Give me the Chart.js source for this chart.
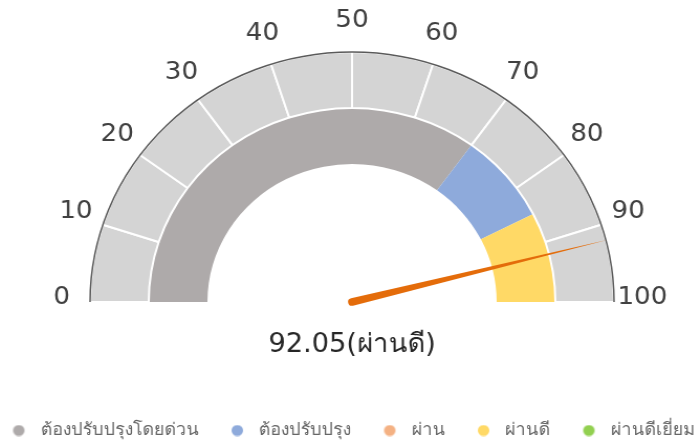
<!DOCTYPE html>
<html>
<head>
<meta charset="utf-8">
<script src="https://cdn.jsdelivr.net/npm/chart.js@4"></script>
<style>
    html, body { margin: 0; padding: 0; background: #fff; overflow: hidden; width: 697px; height: 445px; }
    /* the reference is a bit wider than tall, so the gauge is stretched sideways */
    #wrap { position: absolute; left: -20px; top: 0; width: 710px; height: 449px; transform: scaleX(1.048); transform-origin: 0 0; }
</style>
</head>
<body>
<div id="wrap"><canvas id="gauge"></canvas></div>
<script>
// levels shown in the inner band and the legend
const levelLabels = ['ต้องปรับปรุงโดยด่วน', 'ต้องปรับปรุง', 'ผ่าน', 'ผ่านดี', 'ผ่านดีเยี่ยม'];
const levelColors = ['#aeaaaa', '#8eaadb', '#f4b183', '#ffd966', '#92d050'];
const levelRanges = [70, 15, 0, 15, 0];

// outer scale ring: ten steps of 10
const scaleSteps = [10, 10, 10, 10, 10, 10, 10, 10, 10, 10];
const tickLabels = ['0', '10', '20', '30', '40', '50', '60', '70', '80', '90', '100'];

const score = 92.05;
const scoreText = '92.05(ผ่านดี)';

const FONT = "'DejaVu Sans', 'Noto Sans', sans-serif";

// legend marker: blank space on the left, dot close to the text
function makeDot(color) {
    const c = document.createElement('canvas');
    c.width = 50;
    c.height = 12;
    const g = c.getContext('2d');
    g.fillStyle = color;
    g.beginPath();
    g.arc(37.5, 6, 5.5, 0, Math.PI * 2);
    g.fill();
    return c;
}

// scale labels, outer rim, needle and score text
const gaugeExtras = {
    id: 'gaugeExtras',
    afterDatasetsDraw(chart) {
        const ctx = chart.ctx;
        const arcs = chart.getDatasetMeta(0).data;
        const first = arcs[0], last = arcs[arcs.length - 1];
        const cx = first.x, cy = first.y, R = first.outerRadius;
        const a0 = first.startAngle, a1 = last.endAngle;

        ctx.save();
        ctx.strokeStyle = '#5a5a5a';
        ctx.lineWidth = 1.5;
        ctx.beginPath();
        ctx.arc(cx, cy, R, a0, a1);
        ctx.stroke();

        ctx.fillStyle = '#404040';
        ctx.font = '25px ' + FONT;
        ctx.textAlign = 'center';
        ctx.textBaseline = 'middle';
        tickLabels.forEach((t, i) => {
            const a = a0 + (a1 - a0) * i / (tickLabels.length - 1);
            ctx.fillText(t, cx + (R + 27) * Math.cos(a), cy + (R + 27) * Math.sin(a) - 5);
        });

        // needle
        const total = scaleSteps.reduce((s, v) => s + v, 0);
        const a = a0 + (a1 - a0) * score / total;
        const L = R + 1;
        const w = 3.8;
        const nx = Math.cos(a), ny = Math.sin(a);
        ctx.fillStyle = '#e46c0a';
        ctx.beginPath();
        ctx.moveTo(cx + nx * L, cy + ny * L);
        ctx.lineTo(cx - ny * w, cy + nx * w);
        ctx.arc(cx, cy, w, a + Math.PI / 2, a - Math.PI / 2);
        ctx.closePath();
        ctx.fill();

        ctx.fillStyle = '#262626';
        ctx.font = '26px ' + FONT;
        ctx.fillText(scoreText, cx, cy + 43);
        ctx.restore();
    }
};

new Chart(document.getElementById('gauge'), {
    type: 'doughnut',
    data: {
        labels: levelLabels,
        datasets: [
            {
                data: scaleSteps,
                backgroundColor: '#d4d4d4',
                borderColor: '#ffffff',
                borderWidth: 2
            },
            {
                data: levelRanges,
                backgroundColor: levelColors,
                borderWidth: 0
            }
        ]
    },
    options: {
        responsive: true,
        maintainAspectRatio: false,
        animation: false,
        events: [],
        rotation: -90,
        circumference: 180,
        radius: 250,
        cutout: '55.2%',
        layout: { padding: { top: 52, bottom: 0, left: 0, right: 0 } },
        plugins: {
            tooltip: { enabled: false },
            legend: {
                position: 'bottom',
                align: 'start',
                // empty title only pushes the legend row down to the bottom
                title: { display: true, text: '', font: { size: 10 }, padding: { top: 108, bottom: 0 } },
                labels: {
                    usePointStyle: true,
                    pointStyleWidth: 49,
                    padding: 0,
                    color: '#595959',
                    font: { size: 17, family: FONT },
                    generateLabels: () => levelLabels.map((t, i) => ({
                        text: t,
                        fillStyle: levelColors[i],
                        strokeStyle: levelColors[i],
                        lineWidth: 0,
                        pointStyle: makeDot(levelColors[i]),
                        hidden: false,
                        index: i
                    }))
                }
            }
        }
    },
    plugins: [gaugeExtras]
});
</script>
</body>
</html>
